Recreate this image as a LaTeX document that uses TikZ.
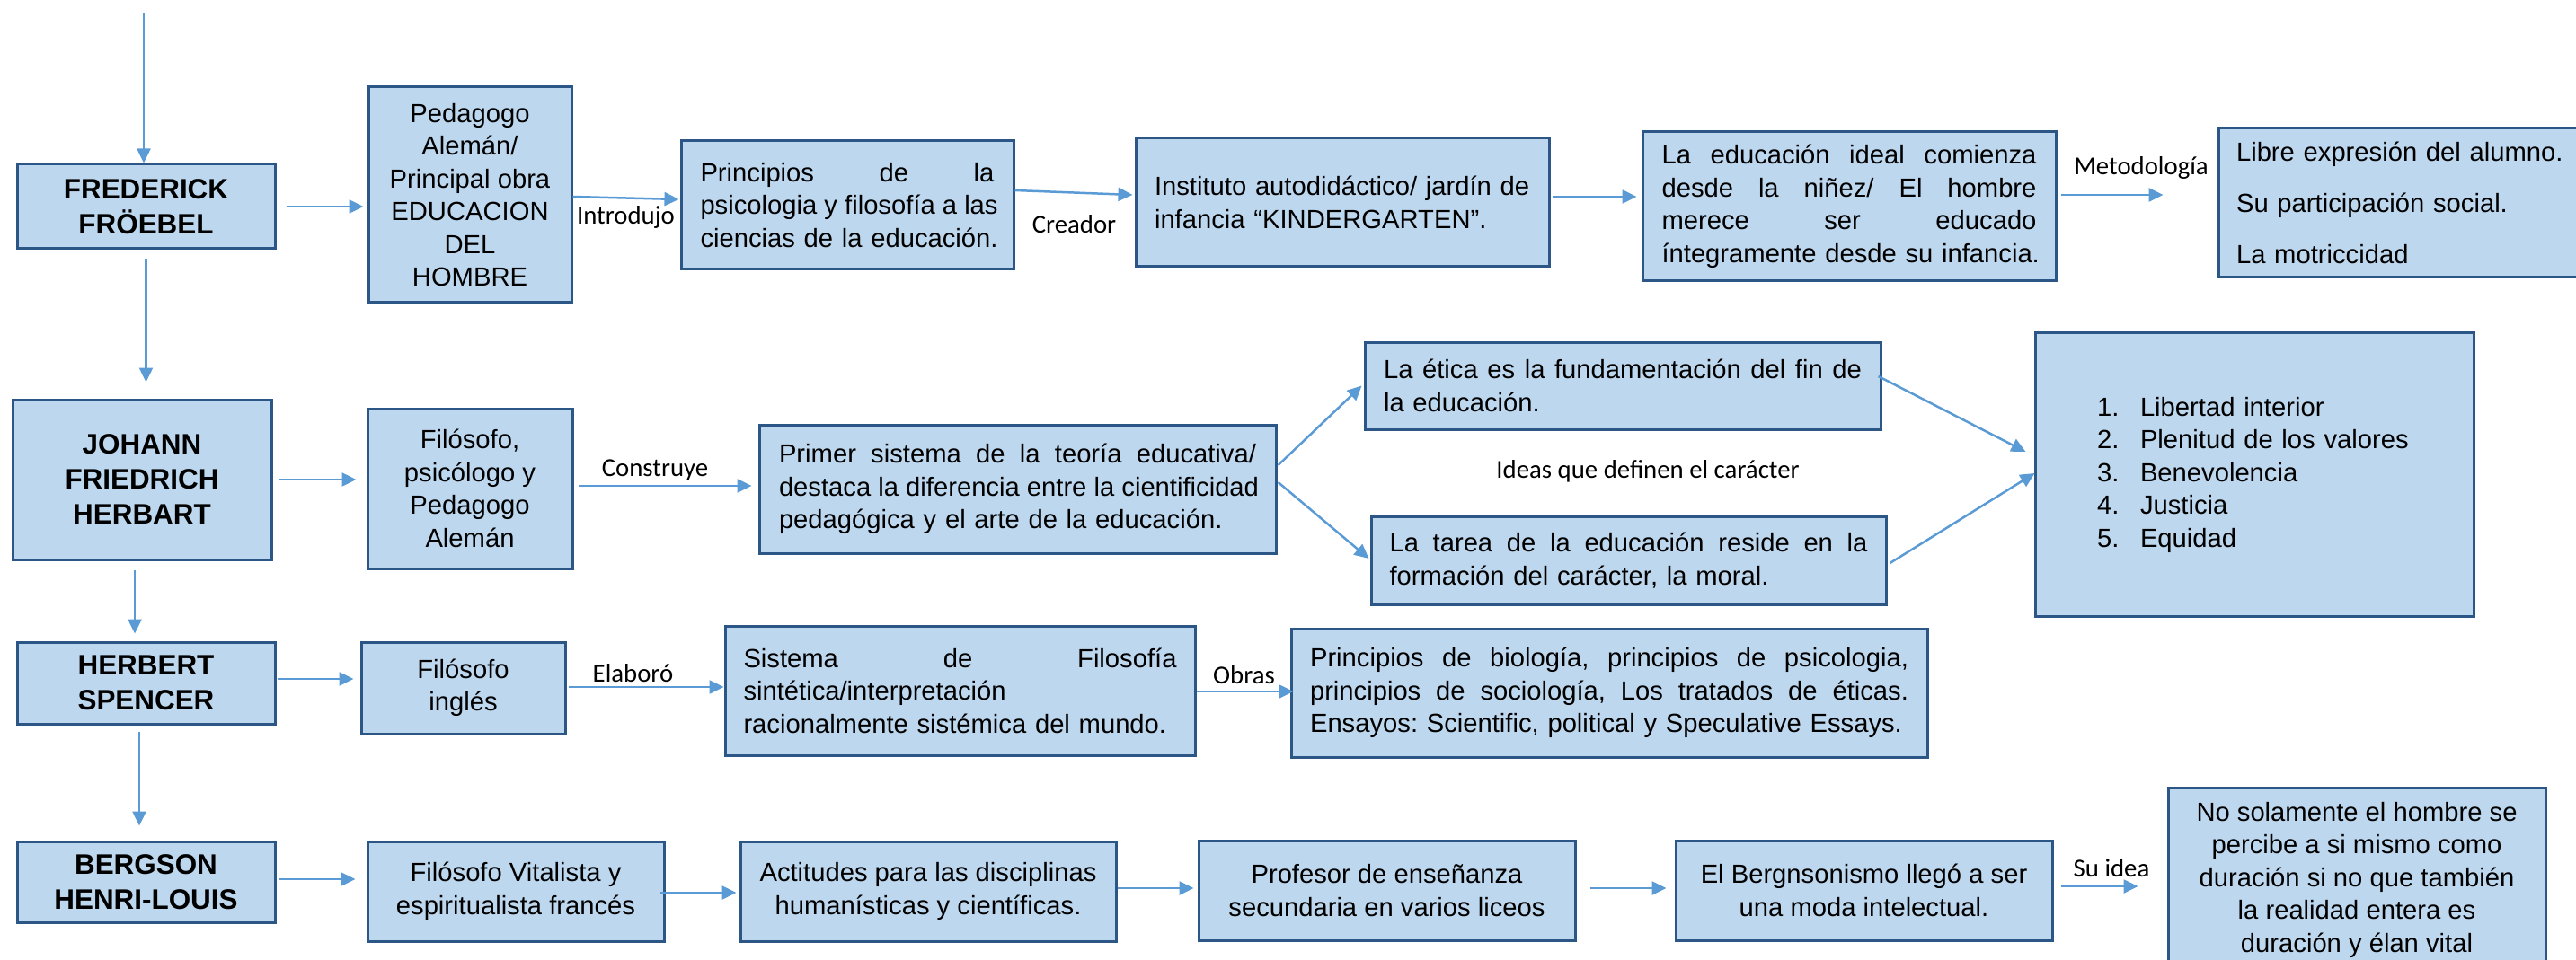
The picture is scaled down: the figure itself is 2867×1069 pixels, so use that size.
\documentclass[tikz,border=0pt]{standalone}
\usepackage{fontspec}
\setmainfont{Liberation Sans}
\newfontfamily\calibri{Carlito}
\usepackage{tikz}
\usetikzlibrary{arrows.meta,calc}

\definecolor{cajaazul}{HTML}{BDD7EE}
\definecolor{bordeazul}{HTML}{2B5686}
\definecolor{flechaazul}{HTML}{5B9BD5}
\setlength{\parindent}{0pt}
\frenchspacing
% justified line: the spaces share the free room
\newcommand{\jline}[1]{\makebox[\hsize][s]{\spaceskip=0.278em plus 1fill\relax #1}}

\tikzset{
  caja/.style={draw=bordeazul, line width=1.5pt, fill=cajaazul, inner sep=0pt, align=center, font=\fontsize{14.6}{18.25}\selectfont},
  nombre/.style={caja, font=\fontsize{15.7}{19.5}\selectfont\bfseries},
  flecha/.style={draw=flechaazul, line width=1.25pt, -{Triangle[length=8pt,width=7.5pt]}},
  etiqueta/.style={inner sep=0pt, font=\calibri\fontsize{14.4}{17}\selectfont}
}

\begin{document}
\begin{tikzpicture}[x=0.5pt,y=0.5pt,yscale=-1,xscale=1]
    \useasboundingbox (0,0) rectangle (2867,1069);
    \clip (0,0) rectangle (2867,1069);

    %Shape: Rectangle (first row)
    \node [nombre, minimum width=143.5pt, minimum height=47pt] (fro) at (162.5,230) {FREDERICK\\FRÖEBEL};
    \node [caja, minimum width=113pt, minimum height=120pt] (ped) at (523,217) {Pedagogo\\Alemán/\\Principal obra\\EDUCACION\\DEL\\HOMBRE};
    \node [caja, minimum width=185pt, minimum height=71.5pt, text width=163.5pt, align=left] (pri) at (943,228.5) {\jline{Principios de la}\\\jline{psicologia y filosofía a las}\\\mbox{ciencias de la educación.}};
    \node [caja, minimum width=230pt, minimum height=71.5pt, text width=209pt, align=left] (ins) at (1494,225.5) {\mbox{Instituto autodidáctico/ jardín de}\\infancia “KINDERGARTEN”.};
    \node [caja, minimum width=230pt, minimum height=83pt, text width=208.5pt, align=left] (edu) at (2058,230) {\jline{La educación ideal comienza}\\\jline{desde la niñez/ El hombre}\\\jline{merece ser educado}\\\mbox{íntegramente desde su infancia.}};
    \node [caja, minimum width=215.5pt, minimum height=83pt, text width=195.5pt, align=left] (lib) at (2684.5,226) {Libre expresión del alumno.\\[10.25pt]Su participación social.\\[10.25pt]La motriccidad};

    %Shape: Rectangle (second row)
    \node [nombre, minimum width=144pt, minimum height=89pt] (her) at (158,534) {JOHANN\\FRIEDRICH\\HERBART};
    \node [caja, minimum width=114pt, minimum height=89pt] (fil) at (523,544) {Filósofo,\\psicólogo y\\Pedagogo\\Alemán};
    \node [caja, minimum width=287.5pt, minimum height=71.5pt, text width=265.5pt, align=left] (prim) at (1132.5,544.5) {\jline{Primer sistema de la teoría educativa/}\\\jline{destaca la diferencia entre la cientificidad}\\\mbox{pedagógica y el arte de la educación.}};
    \node [caja, minimum width=287pt, minimum height=48.5pt, text width=266pt, align=left] (eti) at (1806,429.5) {\jline{La ética es la fundamentación del fin de}\\la educación.};
    \node [caja, minimum width=286.5pt, minimum height=49pt, text width=266pt, align=left] (tar) at (1812.5,624) {\jline{La tarea de la educación reside en la}\\\mbox{formación del carácter, la moral.}};
    \node [caja, minimum width=244pt, minimum height=157.5pt, text width=175pt, align=left] (val) at (2509,528.5) {\makebox[24pt][l]{1.}Libertad interior\\\makebox[24pt][l]{2.}Plenitud de los valores\\\makebox[24pt][l]{3.}Benevolencia\\\makebox[24pt][l]{4.}Justicia\\\makebox[24pt][l]{5.}Equidad};

    %Shape: Rectangle (third row)
    \node [nombre, minimum width=143.5pt, minimum height=45.5pt] (spe) at (162.5,760.5) {HERBERT\\SPENCER};
    \node [caja, minimum width=113.5pt, minimum height=51pt] (ing) at (515.5,766) {Filósofo\\inglés};
    \node [caja, minimum width=261.5pt, minimum height=72pt, text width=241pt, align=left] (sis) at (1068.5,769) {\jline{Sistema de Filosofía}\\sintética/interpretación\\\mbox{racionalmente sistémica del mundo.}};
    \node [caja, minimum width=354pt, minimum height=71.5pt, text width=333pt, align=left] (obr) at (1791,771.5) {\jline{Principios de biología, principios de psicologia,}\\\jline{principios de sociología, Los tratados de éticas.}\\\mbox{Ensayos: Scientific, political y Speculative Essays.}};

    %Shape: Rectangle (fourth row)
    \node [nombre, minimum width=143.5pt, minimum height=45pt] (ber) at (162.5,982) {BERGSON\\HENRI-LOUIS};
    \node [caja, minimum width=165pt, minimum height=55.5pt] (vit) at (574,992.5) {Filósofo Vitalista y\\espiritualista francés};
    \node [caja, minimum width=209pt, minimum height=55.5pt] (act) at (1033,992.5) {Actitudes para las disciplinas\\humanísticas y científicas.};
    \node [caja, minimum width=209.5pt, minimum height=55.5pt] (prof) at (1543.5,991.5) {Profesor de enseñanza\\secundaria en varios liceos};
    \node [caja, minimum width=209.5pt, minimum height=55.5pt] (bgs) at (2074.5,991.5) {El Bergnsonismo llegó a ser\\una moda intelectual.};
    \node [caja, minimum width=210pt, minimum height=102.5pt] (dur) at (2623,979.5) {No solamente el hombre se\\percibe a si mismo como\\duración si no que también\\la realidad entera es\\duración y élan vital};

    %Straight Lines (down the left column)
    \coordinate (ini) at (160,15);
    \draw [flecha] (ini) -- (ini |- fro.north);
    \draw [flecha, shorten <=5pt, shorten >=9pt] (fro.south) -- (fro.south |- her.north);
    \draw [flecha, shorten <=5pt, shorten >=4pt] ($(her.south)+(-8,0)$) -- ($(her.south |- spe.north)+(-8,0)$);
    \draw [flecha, shorten <=3.5pt, shorten >=8pt] ($(spe.south)+(-7.5,0)$) -- ($(spe.south |- ber.north)+(-7.5,0)$);

    %Straight Lines (first row)
    \draw [flecha, shorten <=5.5pt, shorten >=2pt] (fro.east) -- (fro.east -| ped.west);
    \draw [flecha] ($(ped.east)+(0,2)$) -- ($(pri.west)+(-1,-6.5)$);
    \draw [flecha] ($(pri.east)+(0,-16.5)$) -- ($(ins.west)+(-2,-8.5)$);
    \draw [flecha] ($(ins.east)+(2,-6.5)$) -- ($(edu.west)+(-5,-11)$);
    \draw [flecha] ($(edu.east)+(4,-13)$) -- ($(lib.west)+(-60,-9)$);

    %Straight Lines (second row)
    \draw [flecha, shorten <=3.5pt, shorten >=5.5pt] (her.east) -- (her.east -| fil.west);
    \draw [flecha] ($(fil.east)+(5,-3)$) -- ($(prim.west)+(-7,-3.5)$);
    \draw [flecha] ($(prim.east)+(1,-26.5)$) -- ($(eti.west)+(-2,0)$);
    \draw [flecha] ($(prim.east)+(1,-7.5)$) -- ($(tar.west)+(-1,-2)$);
    \draw [flecha] ($(eti.east)+(-4,-10.5)$) -- ($(val.west)+(-9,-25.5)$);
    \draw [flecha] ($(tar.east)+(3,3)$) -- ($(val.west)+(1,-1.5)$);

    %Straight Lines (third row)
    \draw [flecha] ($(spe.east)+(1,-4.5)$) -- ($(ing.west)+(-7,-10)$);
    \draw [flecha] ($(ing.east)+(2,-1)$) -- ($(sis.west)+(0,-4)$);
    \draw [flecha] ($(sis.east)+(0,1)$) -- ($(obr.west)+(4,-1.5)$);

    %Straight Lines (fourth row)
    \draw [flecha] ($(ber.east)+(3,-3)$) -- ($(vit.west)+(-12,-13.5)$);
    \draw [flecha] ($(vit.east)+(-6,1.5)$) -- ($(act.west)+(-3,1.5)$);
    \draw [flecha] ($(act.east)+(0,-3.5)$) -- ($(prof.west)+(-4,-2.5)$);
    \draw [flecha] ($(prof.east)+(15,-2.5)$) -- ($(bgs.west)+(-9,-2.5)$);
    \draw [flecha] ($(bgs.east)+(8,-4.5)$) -- ($(dur.west)+(-32,7.5)$);

    % Text Node
    \node [etiqueta] (lintro) at (696.5,242) {Introdujo};
    % Text Node
    \node [etiqueta] (lcrea) at (1195.5,250) {Creador};
    % Text Node
    \node [etiqueta] (lmeto) at (2383,187) {Metodología};
    % Text Node
    \node [etiqueta] (lcons) at (729,523) {Construye};
    % Text Node
    \node [etiqueta] (lideas) at (1834,525) {Ideas que definen el carácter};
    % Text Node
    \node [etiqueta] (lelab) at (704.5,750) {Elaboró};
    % Text Node
    \node [etiqueta] (lobras) at (1384.5,752) {Obras};
    % Text Node
    \node [etiqueta] (lidea) at (2350,967) {Su idea};
\end{tikzpicture}
\end{document}
